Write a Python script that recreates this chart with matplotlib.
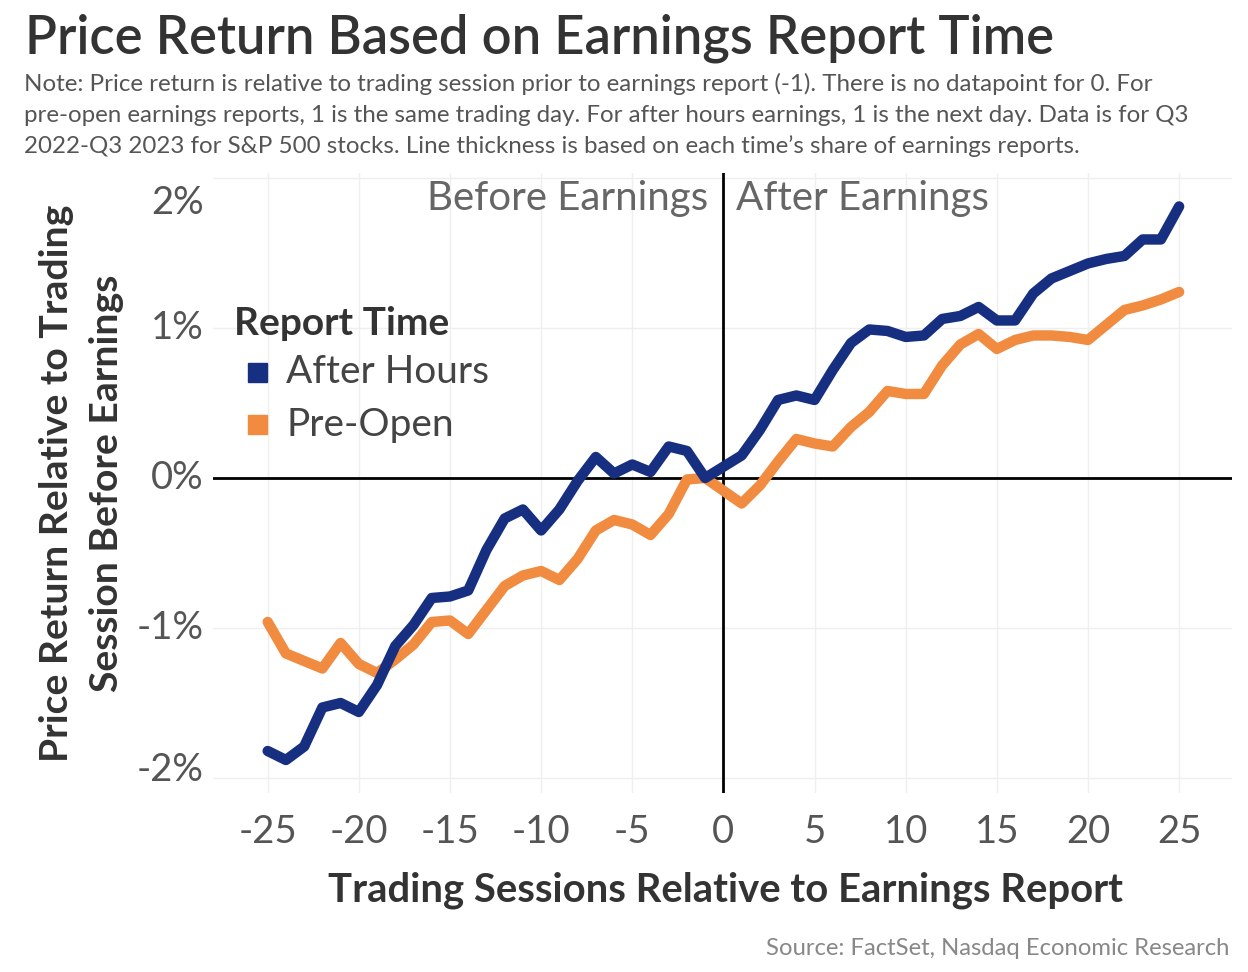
import matplotlib
matplotlib.use("Agg")
import matplotlib.pyplot as plt
from matplotlib.ticker import FixedLocator

plt.rcParams['font.family'] = ['Lato', 'DejaVu Sans']

sessions = [-25, -24, -23, -22, -21, -20, -19, -18, -17, -16, -15, -14, -13, -12, -11,
            -10, -9, -8, -7, -6, -5, -4, -3, -2, -1,
            1, 2, 3, 4, 5, 6, 7, 8, 9, 10, 11, 12, 13, 14, 15, 16, 17, 18, 19, 20,
            21, 22, 23, 24, 25]

after_hours = [-1.82, -1.88, -1.79, -1.53, -1.50, -1.56, -1.38, -1.12, -0.98, -0.80, -0.79,
               -0.75, -0.48, -0.27, -0.21, -0.35, -0.21, -0.02, 0.14, 0.03, 0.09, 0.04,
               0.21, 0.18, 0.00,
               0.15, 0.32, 0.52, 0.55, 0.52, 0.72, 0.90, 0.99, 0.98, 0.94, 0.95, 1.06,
               1.08, 1.14, 1.05, 1.05, 1.23, 1.33, 1.38, 1.43, 1.46, 1.48, 1.59, 1.59, 1.81]

pre_open = [-0.96, -1.17, -1.22, -1.27, -1.10, -1.24, -1.30, -1.21, -1.11, -0.96, -0.95,
            -1.04, -0.88, -0.72, -0.65, -0.62, -0.68, -0.54, -0.35, -0.28, -0.31, -0.38,
            -0.24, -0.01, 0.00,
            -0.17, -0.05, 0.11, 0.26, 0.23, 0.21, 0.34, 0.44, 0.58, 0.56, 0.56, 0.75,
            0.89, 0.96, 0.86, 0.92, 0.95, 0.95, 0.94, 0.92, 1.02, 1.12, 1.15, 1.19, 1.24]

x_ticks = [-25, -20, -15, -10, -5, 0, 5, 10, 15, 20, 25]
y_ticks = [-2, -1, 0, 1, 2]
y_tick_labels = ['-2%', '-1%', '0%', '1%', '2%']

BLUE = '#172f80'
ORANGE = '#f08b40'

fig = plt.figure(figsize=(12.48, 9.72), dpi=100)
ax = fig.add_axes([213/1248, 1-793/972, (1232-213)/1248, (793-173)/972])

ax.set_xlim(-28.0, 27.9)
ax.set_ylim(-2.1, 2.033)

for s in ax.spines.values():
    s.set_visible(False)

ax.xaxis.set_major_locator(FixedLocator(x_ticks))
ax.yaxis.set_major_locator(FixedLocator(y_ticks))
ax.grid(True, color='#efefef', lw=1)
ax.set_axisbelow(True)
ax.tick_params(length=0)
ax.set_xticklabels([str(t) for t in x_ticks], fontsize=27.5, color='#555555')
ax.set_yticklabels([])
for v, lab in zip(y_ticks, y_tick_labels):
    yy = v
    if v == 2:
        yy = 1.83
    elif v == -2:
        yy = -1.95
    ax.text(-28.5, yy, lab, ha='right', va='center', fontsize=27.5, color='#555555')
ax.tick_params(axis='x', pad=15)

ax.axhline(0, color='black', lw=2, zorder=2)
ax.axvline(0, color='black', lw=2, zorder=2)

ax.plot(sessions, after_hours, color=BLUE, lw=7.5, solid_joinstyle='round',
        solid_capstyle='round', zorder=4)
ax.plot(sessions, pre_open, color=ORANGE, lw=7.5, solid_joinstyle='round',
        solid_capstyle='round', zorder=3)

ax.text(-0.85, 1.86, 'Before Earnings', ha='right', va='center', fontsize=29, color='#666666')
ax.text(0.7, 1.86, 'After Earnings', ha='left', va='center', fontsize=29, color='#666666')

# legend
fig.text(234/1248, 1-323/972, 'Report Time', fontsize=28, weight='bold', color='#333333',
         ha='left', va='center')
fig.patches.append(plt.Rectangle((248/1248, 1-382/972), 19/1248, 19/972,
                                 transform=fig.transFigure, color=BLUE))
fig.patches.append(plt.Rectangle((248/1248, 1-434/972), 19/1248, 19/972,
                                 transform=fig.transFigure, color=ORANGE))
fig.text(286/1248, 1-372/972, 'After Hours', fontsize=28, color='#444444', ha='left', va='center')
fig.text(286/1248, 1-425/972, 'Pre-Open', fontsize=28, color='#444444', ha='left', va='center')

fig.text(25/1248, 1-38/972, 'Price Return Based on Earnings Report Time', fontsize=37.8,
         weight='semibold', color='#333333', ha='left', va='center')
note_lines = [
    "Note: Price return is relative to trading session prior to earnings report (-1). There is no datapoint for 0. For",
    "pre-open earnings reports, 1 is the same trading day. For after hours earnings, 1 is the next day. Data is for Q3",
    "2022-Q3 2023 for S&P 500 stocks. Line thickness is based on each time\u2019s share of earnings reports.",
]
for i, line in enumerate(note_lines):
    fig.text(24/1248, 1-(84 + 31*i)/972, line, fontsize=17.4, color='#555555', ha='left',
             va='center')

fig.text(725/1248, 1-890/972, 'Trading Sessions Relative to Earnings Report', fontsize=28.8,
         weight='bold', color='#333333', ha='center', va='center')
fig.text(57/1248, 1-483/972, 'Price Return Relative to Trading', fontsize=28.2,
         weight='bold', color='#333333', ha='center', va='center', rotation=90)
fig.text(107/1248, 1-483/972, 'Session Before Earnings', fontsize=28.2,
         weight='bold', color='#333333', ha='center', va='center', rotation=90)
fig.text(1230/1248, 1-948/972, 'Source: FactSet, Nasdaq Economic Research', fontsize=17.2,
         color='#888888', ha='right', va='center')

fig.savefig('out.png', dpi=100)
